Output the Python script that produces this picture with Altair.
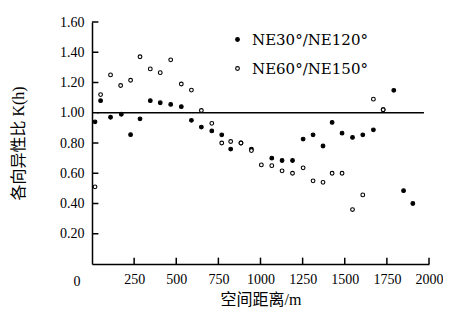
import altair as alt
import pandas as pd

# NE30°/NE120° (filled dots)
x_ne30 = [18, 51, 110, 174, 229, 285, 346, 405, 467, 530, 590, 649, 711, 770, 823, 884, 946,
          1067, 1128, 1190, 1253, 1312, 1371, 1425, 1484, 1546, 1607, 1670, 1728, 1791, 1849, 1904]
k_ne30 = [0.94, 1.08, 0.97, 0.99, 0.855, 0.96, 1.08, 1.066, 1.055, 1.04, 0.95, 0.905, 0.88, 0.854,
          0.76, 0.80, 0.76, 0.70, 0.684, 0.684, 0.826, 0.854, 0.78, 0.936, 0.865, 0.837, 0.854,
          0.887, 1.02, 1.148, 0.485, 0.40]
# NE60°/NE150° (open circles)
x_ne60 = [18, 51, 110, 170, 229, 285, 346, 405, 467, 530, 590, 649, 711, 770, 823, 884, 946,
          1005, 1067, 1128, 1190, 1253, 1312, 1371, 1425, 1484, 1546, 1607, 1670, 1728]
k_ne60 = [0.51, 1.12, 1.25, 1.18, 1.215, 1.37, 1.29, 1.265, 1.35, 1.19, 1.15, 1.015, 0.93, 0.80,
          0.81, 0.80, 0.75, 0.655, 0.65, 0.616, 0.60, 0.636, 0.55, 0.54, 0.60, 0.60, 0.36, 0.457,
          1.09, 1.02]

series_names = ["NE30°/NE120°", "NE60°/NE150°"]
x_ticks = [250, 500, 750, 1000, 1250, 1500, 1750, 2000]
y_ticks = [0.2, 0.4, 0.6, 0.8, 1.0, 1.2, 1.4, 1.6]

df = pd.concat([
    pd.DataFrame({"d": x_ne30, "k": k_ne30, "s": series_names[0]}),
    pd.DataFrame({"d": x_ne60, "k": k_ne60, "s": series_names[1]}),
])

FONT = "Liberation Serif, Noto Sans CJK SC"

xs = alt.Scale(domain=[0, 2000], nice=False, zero=False)
ys = alt.Scale(domain=[0, 1.6], nice=False, zero=False)

X_AXIS = alt.Axis(
    values=x_ticks, format="d", title="空间距离/m", ticks=False, grid=False,
    labelOverlap=False, labelFlush=False, labelBound=False,
    domainColor="black", domainWidth=1.5, labelFont=FONT, labelFontSize=14,
    labelColor="black", labelPadding=8, titleFont=FONT, titleFontSize=16,
    titleFontWeight="normal", titleColor="black", titlePadding=5)
Y_AXIS = alt.Axis(
    values=y_ticks, format=".2f", title="各向异性比 K(h)", ticks=False, grid=False,
    labelOverlap=False, labelFlush=False, labelBound=False,
    domainColor="black", domainWidth=1.5, labelFont=FONT, labelFontSize=14,
    labelColor="black", labelPadding=8, titleFont=FONT, titleFontSize=16,
    titleFontWeight="normal", titleColor="black", titlePadding=33)

points = alt.Chart(df).mark_point(shape="circle", stroke="black", strokeWidth=1.1, size=14, opacity=1).encode(
    x=alt.X("d:Q", scale=xs, axis=X_AXIS),
    y=alt.Y("k:Q", scale=ys, axis=Y_AXIS),
    fill=alt.Fill("s:N", scale=alt.Scale(domain=series_names, range=["black", "white"]),
                  legend=alt.Legend(title=None, orient="none", legendX=138, legendY=10,
                                    labelFont="DejaVu Serif", labelFontSize=15, labelColor="black",
                                    symbolType="circle", symbolSize=14, symbolStrokeColor="black",
                                    symbolStrokeWidth=1.1, rowPadding=13, labelOffset=7,
                                    padding=0)),
)

ref = alt.Chart(pd.DataFrame({"v": [1.0], "a": [30], "b": [1970]})).mark_rule(
    color="black", strokeWidth=1.6).encode(
    y=alt.Y("v:Q", scale=ys, axis=Y_AXIS),
    x=alt.X("a:Q", scale=xs, axis=X_AXIS), x2="b:Q")

xt = alt.Chart(pd.DataFrame({"v": x_ticks, "a": 0.0, "b": 0.042})).mark_rule(
    color="black", strokeWidth=1.5).encode(
    x=alt.X("v:Q", scale=xs, axis=X_AXIS),
    y=alt.Y("a:Q", scale=ys, axis=Y_AXIS), y2="b:Q")

yt = alt.Chart(pd.DataFrame({"v": y_ticks, "a": 0.0, "b": 38.0})).mark_rule(
    color="black", strokeWidth=1.5).encode(
    y=alt.Y("v:Q", scale=ys, axis=Y_AXIS),
    x=alt.X("a:Q", scale=xs, axis=X_AXIS), x2="b:Q")

origin = alt.Chart(pd.DataFrame({"x": [0], "y": [0], "t": ["0"]})).mark_text(
    font=FONT, fontSize=14, color="black", dx=-15, dy=18, baseline="middle", align="center").encode(
    x=alt.X("x:Q", scale=xs, axis=X_AXIS), y=alt.Y("y:Q", scale=ys, axis=Y_AXIS), text="t:N")

chart = alt.layer(ref, xt, yt, points, origin).properties(
    width=337, height=242,
    autosize=alt.AutoSizeParams(type="none"),
    padding={"left": 84, "top": 14, "right": 14, "bottom": 50},
).configure_view(stroke=None)

chart.save("out.html", embed_options={"renderer": "svg", "actions": False})
